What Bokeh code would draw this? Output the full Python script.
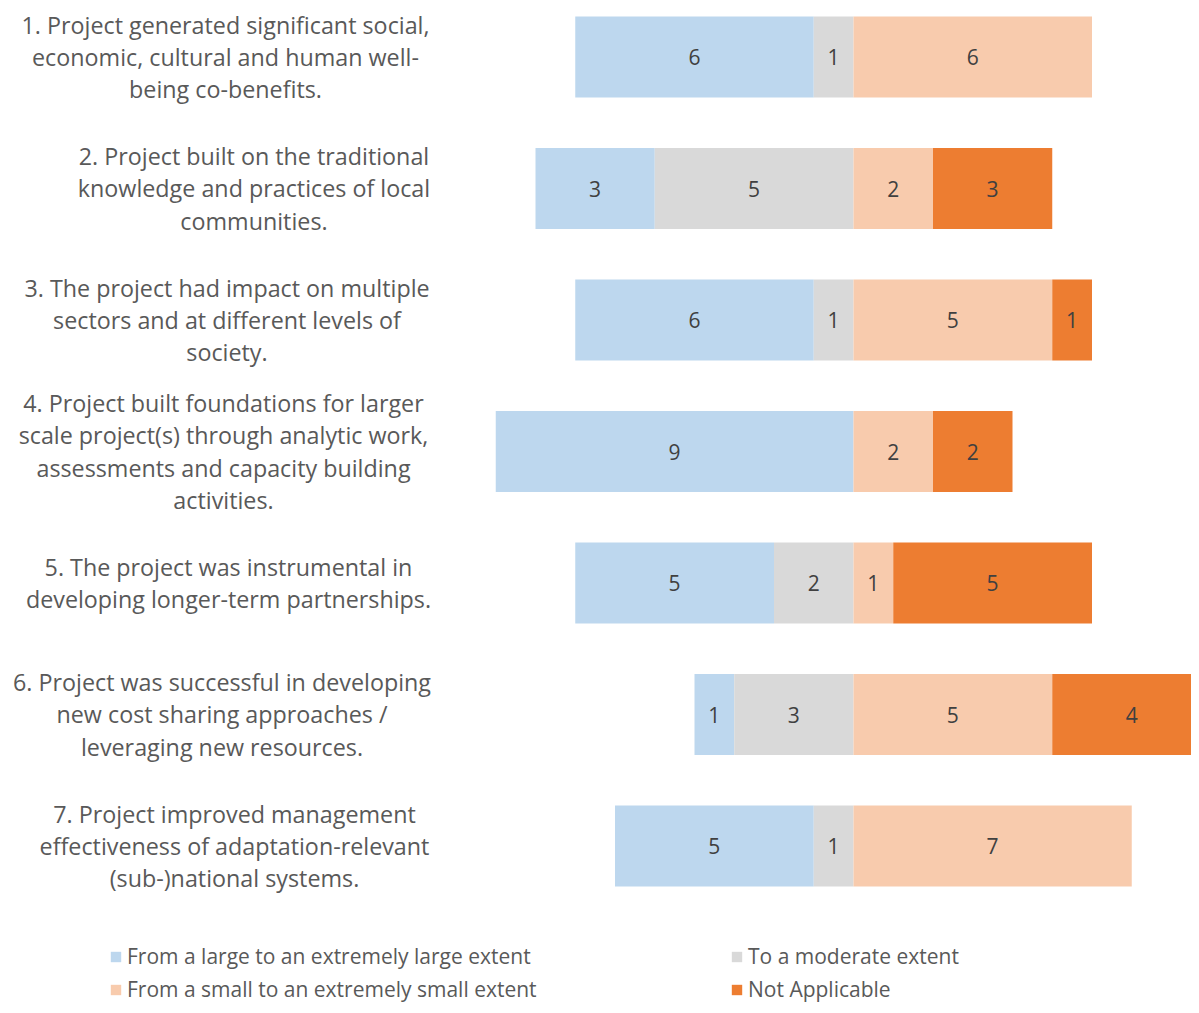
from bokeh.plotting import figure
from bokeh.models import Range1d, ColumnDataSource, Legend, LegendItem
from bokeh.core.properties import value
from bokeh.embed import file_html
from bokeh.resources import INLINE

# ---------------- data ----------------
statements = [
    "1. Project generated significant social,\neconomic, cultural and human well-\nbeing co-benefits.",
    "2. Project built on the traditional\nknowledge and practices of local\ncommunities.",
    "3. The project had impact on multiple\nsectors and at different levels of\nsociety.",
    "4. Project built foundations for larger\nscale project(s) through analytic work,\nassessments and capacity building\nactivities.",
    "5. The project was instrumental in\ndeveloping longer-term partnerships.",
    "6. Project was successful in developing\nnew cost sharing approaches /\nleveraging new resources.",
    "7. Project improved management\neffectiveness of adaptation-relevant\n(sub-)national systems.",
]
large = [6, 3, 6, 9, 5, 1, 5]
moderate = [1, 5, 1, 0, 2, 3, 1]
small = [6, 2, 5, 2, 1, 5, 7]
not_applicable = [0, 3, 1, 2, 5, 4, 0]
series_names = [
    "From a large to an extremely large extent",
    "To a moderate extent",
    "From a small to an extremely small extent",
    "Not Applicable",
]

# ---------------- layout / style ----------------
W, H = 1191, 1005
CX = 853.0        # canvas x of the zero line
UNIT = 39.75      # px per respondent
ROW0 = 56.5       # canvas y of first row centre
PITCH = 131.5     # px between rows
BAR_H = 0.616
colors = ["#BDD7EE", "#D9D9D9", "#F8CBAD", "#ED7D31"]
label_cx_px = [225, 253.5, 226.5, 223, 228, 221.5, 234]  # centre of each wrapped label block
FONT = value("Open Sans")

def px_to_x(px):
    return (px - CX) / UNIT

rows = list(range(len(statements)))

p = figure(
    width=W, height=H, output_backend="svg", toolbar_location=None,
    x_range=Range1d(px_to_x(0), px_to_x(W)),
    y_range=Range1d((H - ROW0) / PITCH, -ROW0 / PITCH),
    x_axis_location=None, y_axis_location=None,
    min_border=0, outline_line_color=None,
)
p.grid.visible = False
p.background_fill_color = "white"

# stacked diverging segments
seg_left = [
    [-(a + b) for a, b in zip(large, moderate)],
    [-b for b in moderate],
    [0 for _ in small],
    [c for c in small],
]
seg_right = [
    [-b for b in moderate],
    [0 for _ in moderate],
    [c for c in small],
    [c + d for c, d in zip(small, not_applicable)],
]
vals = [large, moderate, small, not_applicable]

renderers = []
for k in range(4):
    src = ColumnDataSource(dict(y=rows, left=seg_left[k], right=seg_right[k]))
    r = p.hbar(y="y", left="left", right="right", height=BAR_H, source=src,
               fill_color=colors[k], line_color=None)
    renderers.append(r)
    lx, ly, lt = [], [], []
    for i in rows:
        if vals[k][i] > 0:
            lx.append((seg_left[k][i] + seg_right[k][i]) / 2)
            ly.append(i)
            lt.append(str(vals[k][i]))
    p.text(x=lx, y=ly, text=lt, text_align="center", text_baseline="middle",
           text_font=FONT, text_font_size="21px", text_color="#404040")

# category labels
p.text(x=[px_to_x(c) for c in label_cx_px], y=rows, text=statements,
       text_align="center", text_baseline="middle", text_font=FONT,
       text_font_size="23.3px", text_color="#595959", text_line_height=1.015)

def make_legend(idx, loc):
    leg = Legend(
        items=[LegendItem(label=series_names[i], renderers=[renderers[i]]) for i in idx],
        location=loc, orientation="vertical",
        border_line_color=None, background_fill_alpha=0,
        padding=0, margin=0, spacing=5,
        glyph_width=13, glyph_height=13, label_standoff=5,
        label_height=20,
        label_text_font="Open Sans", label_text_font_size="21px",
        label_text_color="#595959",
    )
    p.add_layout(leg)

make_legend([0, 2], (109, 2))
make_legend([1, 3], (730, 2))

open("out.html", "w").write(file_html(p, INLINE))
